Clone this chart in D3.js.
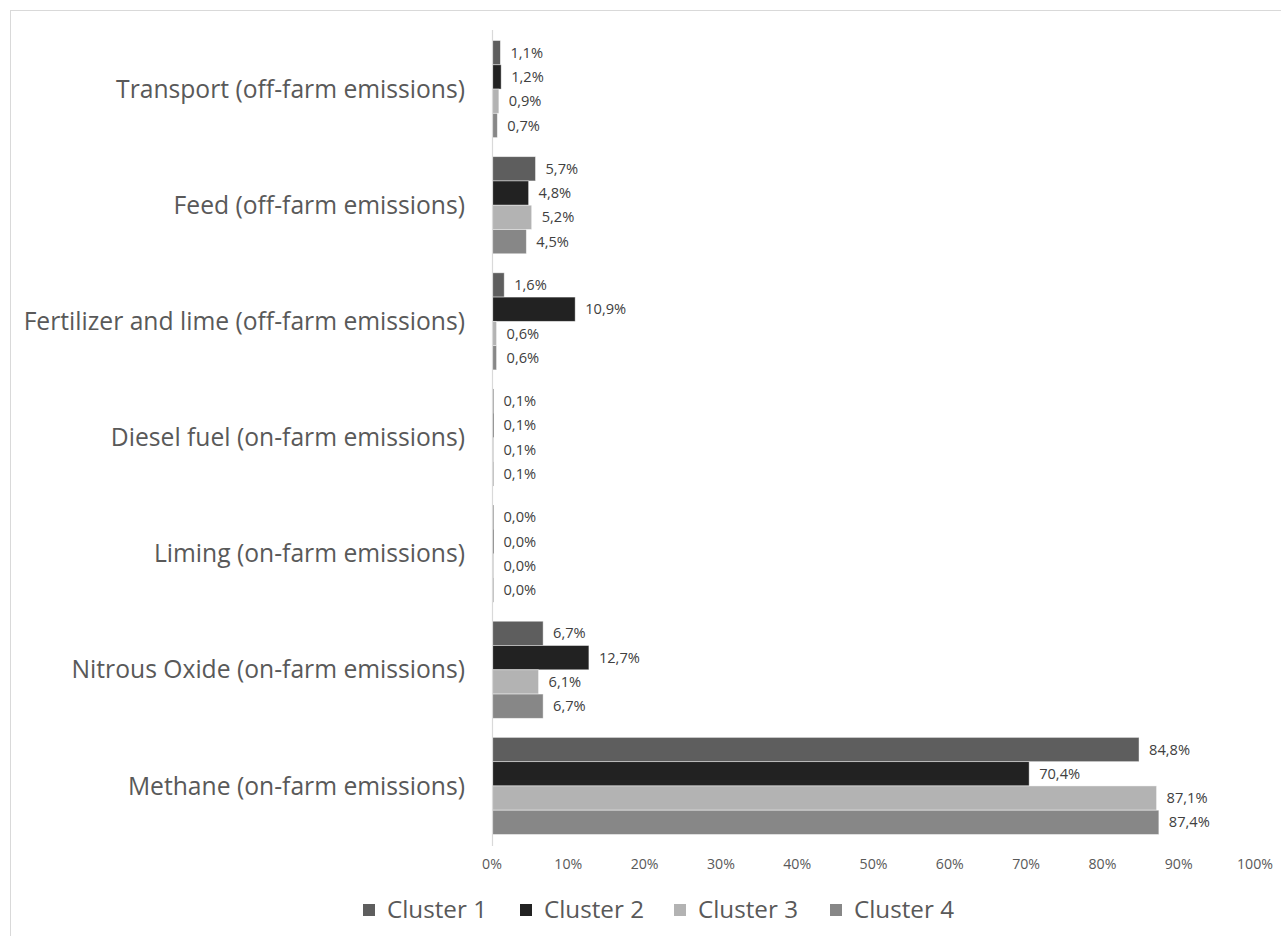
<!DOCTYPE html>
<html>
<head>
<meta charset="utf-8">
<script src="https://cdn.jsdelivr.net/npm/d3@7"></script>
<style>
  html, body { margin: 0; padding: 0; background: #fff; }
  svg { display: block; font-family: "Open Sans", Lato, sans-serif; }
</style>
</head>
<body>
<div id="chart"></div>
<script>
// ── Data ──
const categories = [
  'Transport (off-farm emissions)',
  'Feed (off-farm emissions)',
  'Fertilizer and lime (off-farm emissions)',
  'Diesel fuel (on-farm emissions)',
  'Liming (on-farm emissions)',
  'Nitrous Oxide (on-farm emissions)',
  'Methane (on-farm emissions)'
];
const seriesNames = ['Cluster 1', 'Cluster 2', 'Cluster 3', 'Cluster 4'];
const cluster1 = [1.1, 5.7, 1.6, 0.1, 0.0, 6.7, 84.8];
const cluster2 = [1.2, 4.8, 10.9, 0.1, 0.0, 12.7, 70.4];
const cluster3 = [0.9, 5.2, 0.6, 0.1, 0.0, 6.1, 87.1];
const cluster4 = [0.7, 4.5, 0.6, 0.1, 0.0, 6.7, 87.4];
const seriesValues = [cluster1, cluster2, cluster3, cluster4];
const xTicks = [0, 10, 20, 30, 40, 50, 60, 70, 80, 90, 100];

const COLORS = ['#5e5e5e', '#222222', '#b3b3b3', '#878787'];

const W = 1281, H = 936;
const M = { left: 492, right: 26, top: 31, bottom: 92 };

const svg = d3.select('#chart').append('svg').attr('width', W).attr('height', H);

function fitSize(sample, targetWidth) {
  const t = svg.append('text').attr('font-size', 20).text(sample);
  const w = t.node().getComputedTextLength();
  t.remove();
  return 20 * targetWidth / w;
}
const catSize = fitSize('Transport (off-farm emissions)', 349);
const valSize = fitSize('84,8%', 41);
const tickSize = fitSize('100%', 36);
const legSize = fitSize('Cluster 1', 100);

// chart frame (only top/left edges visible in the crop)
svg.append('rect').attr('x', 10.5).attr('y', 10.5)
  .attr('width', W + 20).attr('height', H + 20)
  .attr('fill', 'none').attr('stroke', '#d9d9d9').attr('stroke-width', 1);

const x = d3.scaleLinear().domain([0, 100]).range([M.left, W - M.right]);
const y = d3.scaleBand().domain(categories).range([M.top, H - M.bottom]).paddingInner(0.164).paddingOuter(0.082);
const yInner = d3.scaleBand().domain(seriesNames).range([0, y.bandwidth()]);

const fmt = v => d3.format('.1f')(v).replace('.', ',') + '%';

// ── Bars ──
const groups = svg.append('g').selectAll('g').data(categories).join('g')
  .attr('transform', d => `translate(0,${y(d)})`);

groups.each(function(cat, ci) {
  const g = d3.select(this);
  seriesNames.forEach((s, si) => {
    const v = seriesValues[si][ci];
    const w = Math.max(x(v) - x(0), 1.5);
    g.append('rect')
      .attr('x', x(0)).attr('y', yInner(s))
      .attr('width', w).attr('height', yInner.bandwidth())
      .attr('fill', COLORS[si])
      .attr('stroke', v > 0.5 ? 'rgba(255,255,255,0.55)' : 'none').attr('stroke-width', 0.8);
    g.append('text')
      .attr('x', x(0) + w + 10).attr('y', yInner(s) + yInner.bandwidth() / 2)
      .attr('dy', '0.35em')
      .attr('font-size', valSize).attr('fill', '#404040')
      .text(fmt(v));
  });
});

// ── Y axis line ──
svg.append('line')
  .attr('x1', x(0) + 0.5).attr('x2', x(0) + 0.5)
  .attr('y1', M.top - 1).attr('y2', H - M.bottom + 2)
  .attr('stroke', '#d9d9d9').attr('stroke-width', 1.2);

// ── Category labels ──
svg.append('g').selectAll('text').data(categories).join('text')
  .attr('x', 465).attr('y', d => y(d) + y.bandwidth() / 2)
  .attr('dy', '0.35em').attr('text-anchor', 'end')
  .attr('font-size', catSize).attr('fill', '#595959')
  .text(d => d);

// ── X tick labels ──
svg.append('g').selectAll('text').data(xTicks).join('text')
  .attr('x', d => x(d)).attr('y', 864).attr('dy', '0.35em')
  .attr('text-anchor', 'middle').attr('font-size', tickSize).attr('fill', '#595959')
  .text(d => d + '%');

// ── Legend ──
const legendX = [363, 520, 674, 830];
const legend = svg.append('g').selectAll('g').data(seriesNames).join('g')
  .attr('transform', (d, i) => `translate(${legendX[i]},910)`);
legend.append('rect').attr('x', 0).attr('y', -6).attr('width', 12).attr('height', 12)
  .attr('fill', (d, i) => COLORS[i]);
legend.append('text').attr('x', 24).attr('y', 0).attr('dy', '0.35em')
  .attr('font-size', legSize).attr('fill', '#595959').text(d => d);
</script>
</body>
</html>
